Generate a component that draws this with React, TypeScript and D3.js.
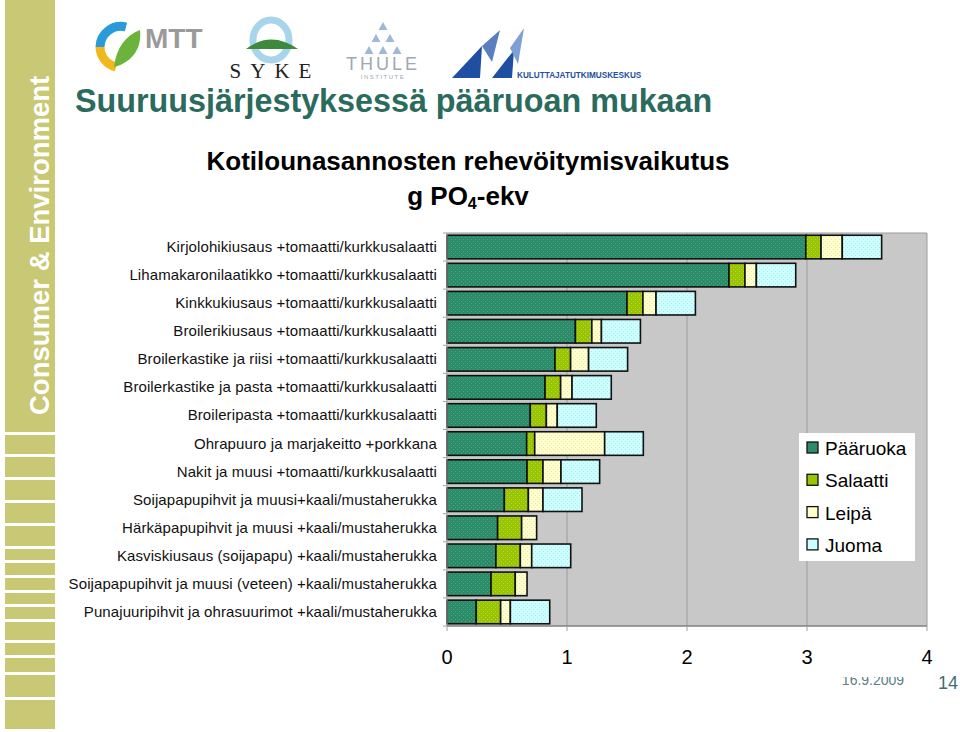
import React, { useEffect, useRef } from "react";
import * as d3 from "d3";

const categories = [
  "Kirjolohikiusaus +tomaatti/kurkkusalaatti",
  "Lihamakaronilaatikko +tomaatti/kurkkusalaatti",
  "Kinkkukiusaus +tomaatti/kurkkusalaatti",
  "Broilerikiusaus +tomaatti/kurkkusalaatti",
  "Broilerkastike ja riisi +tomaatti/kurkkusalaatti",
  "Broilerkastike ja pasta +tomaatti/kurkkusalaatti",
  "Broileripasta +tomaatti/kurkkusalaatti",
  "Ohrapuuro ja marjakeitto +porkkana",
  "Nakit ja muusi +tomaatti/kurkkusalaatti",
  "Soijapapupihvit ja muusi+kaali/mustaherukka",
  "Härkäpapupihvit ja muusi +kaali/mustaherukka",
  "Kasviskiusaus (soijapapu) +kaali/mustaherukka",
  "Soijapapupihvit ja muusi (veteen) +kaali/mustaherukka",
  "Punajuuripihvit ja ohrasuurimot +kaali/mustaherukka",
];

const seriesNames = ["Pääruoka", "Salaatti", "Leipä", "Juoma"];

const paaruoka = [2.99, 2.35, 1.5, 1.07, 0.9, 0.817, 0.694, 0.664, 0.667, 0.478, 0.422, 0.408, 0.367, 0.244];
const salaatti = [0.127, 0.133, 0.133, 0.137, 0.13, 0.13, 0.134, 0.067, 0.133, 0.2, 0.2, 0.203, 0.202, 0.203];
const leipa = [0.177, 0.095, 0.109, 0.08, 0.15, 0.095, 0.091, 0.583, 0.15, 0.122, 0.125, 0.095, 0.098, 0.081];
const juoma = [0.328, 0.328, 0.328, 0.325, 0.325, 0.327, 0.325, 0.322, 0.322, 0.325, 0, 0.325, 0, 0.328];

const xTicks = [0, 1, 2, 3, 4];

const fills = ["#2c8c69", "#99c400", "#ffffcc", "#ccffff"];
const dotFills = ["#4aa583", "#b5d84a", "#e8e8b0", "#b0e8e8"];

export default function App() {
  const ref = useRef<SVGSVGElement>(null);

  useEffect(() => {
    const svg = d3.select(ref.current);
    svg.selectAll("*").remove();

    const W = 960;
    const H = 732;
    const font = "Liberation Sans, Arial, sans-serif";

    svg.append("rect").attr("width", W).attr("height", H).attr("fill", "#fff");

    // pattern fills
    const defs = svg.append("defs");
    fills.forEach((f, i) => {
      const p = defs
        .append("pattern")
        .attr("id", `pat${i}`)
        .attr("patternUnits", "userSpaceOnUse")
        .attr("width", 4)
        .attr("height", 4);
      p.append("rect").attr("width", 4).attr("height", 4).attr("fill", f);
      p.append("rect").attr("x", 1).attr("y", 1).attr("width", 1).attr("height", 1).attr("fill", dotFills[i]);
      p.append("rect").attr("x", 3).attr("y", 3).attr("width", 1).attr("height", 1).attr("fill", dotFills[i]);
    });

    // side band
    svg.append("rect").attr("x", 5).attr("y", 0).attr("width", 50).attr("height", 432).attr("fill", "#c9c875");
    const stripes = [435, 457, 480, 503, 526, 549, 563, 578, 593, 607, 622, 643, 658, 675, 700];
    stripes.forEach((y, i) => {
      const next = i < stripes.length - 1 ? stripes[i + 1] : 732;
      svg.append("rect").attr("x", 5).attr("y", y).attr("width", 50).attr("height", Math.max(0, next - y - 3)).attr("fill", "#c9c875");
    });
    svg
      .append("text")
      .attr("transform", "translate(49,415) rotate(-90)")
      .attr("font-family", font)
      .attr("font-weight", "bold")
      .attr("font-size", 27.5)
      .attr("fill", "#fff")
      .text("Consumer & Environment");

    // logos (simplified)
    const lg = svg.append("g");
    lg.append("path").attr("d", "M126,27 A21,21 0 0 0 100,47").attr("fill", "none").attr("stroke", "#2a9ad8").attr("stroke-width", 9);
    lg.append("path").attr("d", "M100,47 A21,21 0 0 0 116,67").attr("fill", "none").attr("stroke", "#f0b81c").attr("stroke-width", 9);
    lg.append("path").attr("d", "M114,67 C134,62 142,46 140,30 C126,35 116,48 114,67 Z").attr("fill", "#6ab43c");
    lg.append("text").attr("x", 145).attr("y", 48).attr("font-family", font).attr("font-weight", "bold").attr("font-size", 28).attr("fill", "#9a9a9a").text("MTT");

    lg.append("ellipse").attr("cx", 271).attr("cy", 40).attr("rx", 18).attr("ry", 20).attr("fill", "none").attr("stroke", "#a8d4ec").attr("stroke-width", 7);
    lg.append("path").attr("d", "M246,49 Q271,30 298,49 Z").attr("fill", "#3d8a3d");
    lg.append("text").attr("x", 275).attr("y", 78).attr("text-anchor", "middle").attr("font-family", "Liberation Serif, serif").attr("font-size", 21).attr("letter-spacing", 9).attr("fill", "#222").text("SYKE");

    const tri = [[383, 22], [376, 34], [390, 34], [369, 46], [383, 46], [397, 46]];
    tri.forEach(([x, y]) =>
      lg.append("path").attr("d", `M${x},${y} l-4.5,8 l9,0 Z`).attr("fill", "#9fb8d8")
    );
    lg.append("text").attr("x", 383).attr("y", 70).attr("text-anchor", "middle").attr("font-family", font).attr("font-size", 18).attr("letter-spacing", 3).attr("fill", "#a0a8b4").text("THULE");
    lg.append("text").attr("x", 383).attr("y", 79).attr("text-anchor", "middle").attr("font-family", font).attr("font-size", 6).attr("letter-spacing", 1.5).attr("fill", "#a0a8b4").text("INSTITUTE");

    lg.append("path").attr("d", "M452,78 L482,46 L480,78 Z").attr("fill", "#1f4fa0");
    lg.append("path").attr("d", "M482,46 L500,30 L492,62 Z").attr("fill", "#5a7fc0");
    lg.append("path").attr("d", "M492,78 L514,50 L512,78 Z").attr("fill", "#1f4fa0");
    lg.append("path").attr("d", "M510,48 L524,28 L518,64 Z").attr("fill", "#7fa0d4");
    lg.append("text").attr("x", 517).attr("y", 78).attr("font-family", font).attr("font-weight", "bold").attr("font-size", 8.2).attr("fill", "#1f4fa0").text("KULUTTAJATUTKIMUSKESKUS");

    // titles
    svg.append("text").attr("x", 75).attr("y", 112).attr("font-family", font).attr("font-weight", "bold").attr("font-size", 32.3).attr("fill", "#2b6b5e").text("Suuruusjärjestyksessä pääruoan mukaan");
    svg.append("text").attr("x", 468).attr("y", 170).attr("text-anchor", "middle").attr("font-family", font).attr("font-weight", "bold").attr("font-size", 26).attr("fill", "#000").text("Kotilounasannosten rehevöitymisvaikutus");
    const sub = svg.append("text").attr("x", 468).attr("y", 205).attr("text-anchor", "middle").attr("font-family", font).attr("font-weight", "bold").attr("font-size", 26).attr("fill", "#000");
    sub.append("tspan").text("g PO");
    sub.append("tspan").attr("font-size", 16).attr("dy", 4).text("4");
    sub.append("tspan").attr("dy", -4).text("-ekv");

    // chart
    const left = 447;
    const right = 927;
    const top = 233;
    const bottom = 626;

    const x = d3.scaleLinear().domain([0, 4]).range([left, right]);
    const y = d3.scaleBand().domain(categories).range([top, bottom]).paddingInner(0.16).paddingOuter(0.08);

    svg.append("rect").attr("x", left).attr("y", top).attr("width", right - left).attr("height", bottom - top).attr("fill", "#c8c8c8");

    svg
      .append("g")
      .selectAll("line")
      .data(xTicks.slice(1, -1))
      .join("line")
      .attr("x1", (d) => x(d))
      .attr("x2", (d) => x(d))
      .attr("y1", top)
      .attr("y2", bottom)
      .attr("stroke", "#9c9c9c")
      .attr("stroke-width", 1);
    svg.append("line").attr("x1", right).attr("x2", right).attr("y1", top).attr("y2", bottom).attr("stroke", "#9c9c9c");
    svg.append("line").attr("x1", left).attr("x2", right).attr("y1", top).attr("y2", top).attr("stroke", "#9c9c9c");

    const rows = categories.map((c, i) => ({
      cat: c,
      Pääruoka: paaruoka[i],
      Salaatti: salaatti[i],
      Leipä: leipa[i],
      Juoma: juoma[i],
    }));
    const stacked = d3.stack<any>().keys(seriesNames)(rows);

    stacked.forEach((s, si) => {
      svg
        .append("g")
        .selectAll("rect")
        .data(s.filter((d) => d[1] - d[0] > 0))
        .join("rect")
        .attr("x", (d) => x(d[0]))
        .attr("y", (d) => y(d.data.cat)!)
        .attr("width", (d) => x(d[1]) - x(d[0]))
        .attr("height", y.bandwidth())
        .attr("fill", `url(#pat${si})`)
        .attr("stroke", "#111")
        .attr("stroke-width", 1.6);
    });

    // y axis
    svg.append("line").attr("x1", left).attr("x2", left).attr("y1", top).attr("y2", bottom).attr("stroke", "#a0a0a0");
    const step = y.step();
    svg
      .append("g")
      .selectAll("line")
      .data(d3.range(categories.length + 1))
      .join("line")
      .attr("x1", left - 4)
      .attr("x2", left)
      .attr("y1", (i) => top + i * step)
      .attr("y2", (i) => top + i * step)
      .attr("stroke", "#a0a0a0");
    svg
      .append("g")
      .selectAll("text")
      .data(categories)
      .join("text")
      .attr("x", left - 10)
      .attr("y", (d) => y(d)! + y.bandwidth() / 2 + 5)
      .attr("text-anchor", "end")
      .attr("font-family", font)
      .attr("font-size", 15)
      .attr("letter-spacing", 0.1)
      .attr("fill", "#111")
      .text((d) => d);

    // x axis
    svg.append("line").attr("x1", left).attr("x2", right).attr("y1", bottom).attr("y2", bottom).attr("stroke", "#808080").attr("stroke-width", 1.5);
    svg
      .append("g")
      .selectAll("line")
      .data(xTicks)
      .join("line")
      .attr("x1", (d) => x(d))
      .attr("x2", (d) => x(d))
      .attr("y1", bottom)
      .attr("y2", bottom + 5)
      .attr("stroke", "#a0a0a0");
    svg
      .append("g")
      .selectAll("text")
      .data(xTicks)
      .join("text")
      .attr("x", (d) => x(d))
      .attr("y", 664)
      .attr("text-anchor", "middle")
      .attr("font-family", font)
      .attr("font-size", 20)
      .attr("fill", "#000")
      .text((d) => d);

    // legend
    const lgX = 799;
    const lgY = 433;
    svg.append("rect").attr("x", lgX).attr("y", lgY).attr("width", 116).attr("height", 128).attr("fill", "#fff");
    seriesNames.forEach((n, i) => {
      const cy = 448 + i * 32.3;
      svg.append("rect").attr("x", lgX + 8).attr("y", cy - 6).attr("width", 11).attr("height", 11).attr("fill", fills[i]).attr("stroke", "#111").attr("stroke-width", 1.3);
      svg.append("text").attr("x", lgX + 26).attr("y", cy + 7).attr("font-family", font).attr("font-size", 19).attr("fill", "#000").text(n);
    });

    // footer
    defs.append("clipPath").attr("id", "dateclip").append("rect").attr("x", 830).attr("y", 677).attr("width", 90).attr("height", 20);
    svg.append("text").attr("x", 873).attr("y", 685).attr("text-anchor", "middle").attr("clip-path", "url(#dateclip)").attr("font-family", font).attr("font-size", 14).attr("fill", "#5d7f86").text("16.9.2009");
    svg.append("text").attr("x", 938).attr("y", 689).attr("font-family", font).attr("font-size", 18).attr("fill", "#3f6f73").text("14");
  }, []);

  return (
    <svg
      ref={ref}
      width={960}
      height={732}
      style={{ display: "block", position: "absolute", left: 0, top: 0 }}
    />
  );
}
